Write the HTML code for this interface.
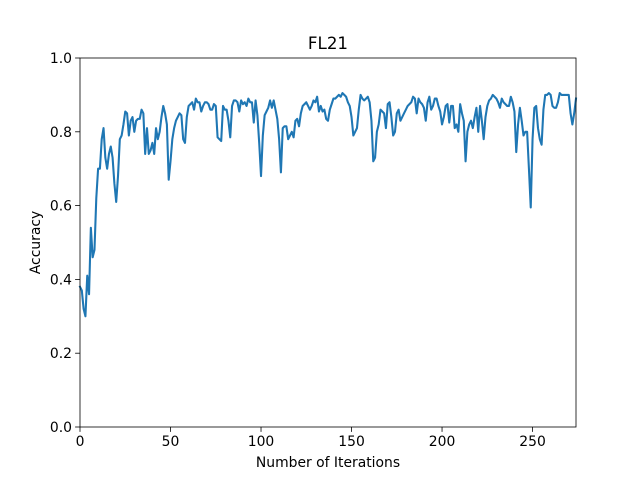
<!DOCTYPE html>
<html><head><meta charset="utf-8"><style>
html,body{margin:0;padding:0;background:#fff;}
svg text{font-family:"DejaVu Sans","Liberation Sans",sans-serif;fill:#000;}
</style></head><body>
<svg id="chart" width="640" height="480" xmlns="http://www.w3.org/2000/svg">
<rect width="640" height="480" fill="#fff"/>
<text x="328" y="49" font-size="16.7" text-anchor="middle">FL21</text>
<g id="xticks"></g>
<g id="yticks"></g>
<path id="line" fill="none" stroke="#1f77b4" stroke-width="2.08" stroke-linejoin="round" stroke-linecap="square"/>
<rect x="80" y="58" width="496" height="369" fill="none" stroke="#000" stroke-width="0.8"/>
<text x="328" y="467" font-size="13.9" text-anchor="middle">Number of Iterations</text>
<text transform="translate(40,242.5) rotate(-90)" font-size="13.9" text-anchor="middle">Accuracy</text>
</svg>
<script>
const xTicks=[0,50,100,150,200,250];
const yTicks=[0.0,0.2,0.4,0.6,0.8,1.0];
const yTickLabels=["0.0","0.2","0.4","0.6","0.8","1.0"];
const accuracy=[
.38,.37,.32,.30,.41,.36,.54,.46,.48,.62,
.70,.70,.78,.81,.73,.70,.74,.76,.73,.66,
.61,.68,.78,.79,.82,.855,.85,.79,.83,.84,
.80,.83,.835,.835,.86,.85,.74,.81,.74,.75,
.77,.74,.81,.78,.80,.84,.87,.85,.82,.67,
.72,.78,.81,.83,.84,.85,.845,.78,.77,.84,
.87,.875,.88,.86,.89,.88,.88,.855,.87,.88,
.88,.875,.86,.86,.875,.87,.785,.78,.775,.87,
.86,.86,.83,.785,.87,.885,.885,.88,.855,.885,
.875,.88,.87,.89,.88,.88,.825,.885,.845,.77,
.68,.79,.845,.855,.865,.885,.865,.885,.86,.835,
.78,.69,.81,.815,.815,.78,.79,.80,.785,.83,
.835,.815,.85,.87,.875,.88,.87,.86,.87,.885,
.88,.895,.855,.87,.855,.86,.835,.83,.86,.875,
.89,.89,.895,.90,.895,.905,.90,.895,.88,.87,
.84,.79,.80,.81,.86,.90,.89,.885,.89,.895,
.88,.83,.72,.73,.80,.82,.86,.855,.85,.81,
.875,.88,.84,.79,.80,.85,.86,.83,.84,.85,
.86,.87,.875,.88,.895,.89,.85,.89,.88,.875,
.865,.83,.88,.895,.86,.87,.89,.89,.87,.855,
.82,.84,.87,.875,.825,.87,.87,.81,.82,.80,
.875,.85,.83,.72,.80,.82,.83,.81,.84,.865,
.80,.87,.83,.78,.84,.87,.885,.89,.90,.895,
.89,.88,.865,.89,.88,.875,.87,.87,.895,.88,
.855,.745,.82,.865,.83,.79,.80,.80,.70,.595,
.78,.865,.87,.81,.78,.765,.86,.90,.90,.905,
.90,.87,.865,.865,.88,.905,.90,.90,.90,.90,
.90,.85,.82,.85,.89];
const X0=80,X1=576,Y0=427,Y1=58,XMAX=accuracy.length-1;
const xs=v=>X0+(v/XMAX)*(X1-X0);
const ys=v=>Y0-v*(Y0-Y1);
const NS="http://www.w3.org/2000/svg";
const xg=document.getElementById('xticks'),yg=document.getElementById('yticks');
xTicks.forEach(t=>{
  const l=document.createElementNS(NS,'line');
  
  
  l.setAttribute('x1',xs(t));l.setAttribute('x2',xs(t));l.setAttribute('y1',Y0);l.setAttribute('y2',Y0+4.9);
  l.setAttribute('stroke','#000');l.setAttribute('stroke-width','0.8');xg.appendChild(l);
  const tx=document.createElementNS(NS,'text');
  
  
  tx.setAttribute('x',xs(t));tx.setAttribute('y',Y0+19);tx.setAttribute('font-size','13.9');tx.setAttribute('text-anchor','middle');
  tx.textContent=t;xg.appendChild(tx);
});
yTicks.forEach((t,i)=>{
  const l=document.createElementNS(NS,'line');
  
  
  l.setAttribute('x1',X0-4.9);l.setAttribute('x2',X0);l.setAttribute('y1',ys(t));l.setAttribute('y2',ys(t));
  l.setAttribute('stroke','#000');l.setAttribute('stroke-width','0.8');yg.appendChild(l);
  const tx=document.createElementNS(NS,'text');
  
  
  tx.setAttribute('x',X0-8);tx.setAttribute('y',ys(t)+5);tx.setAttribute('font-size','13.9');tx.setAttribute('text-anchor','end');
  tx.textContent=yTickLabels[i];yg.appendChild(tx);
});
document.getElementById('line').setAttribute('d',accuracy.map((v,i)=>(i?'L':'M')+xs(i).toFixed(2)+','+ys(v).toFixed(2)).join(''));
</script>
</body></html>
